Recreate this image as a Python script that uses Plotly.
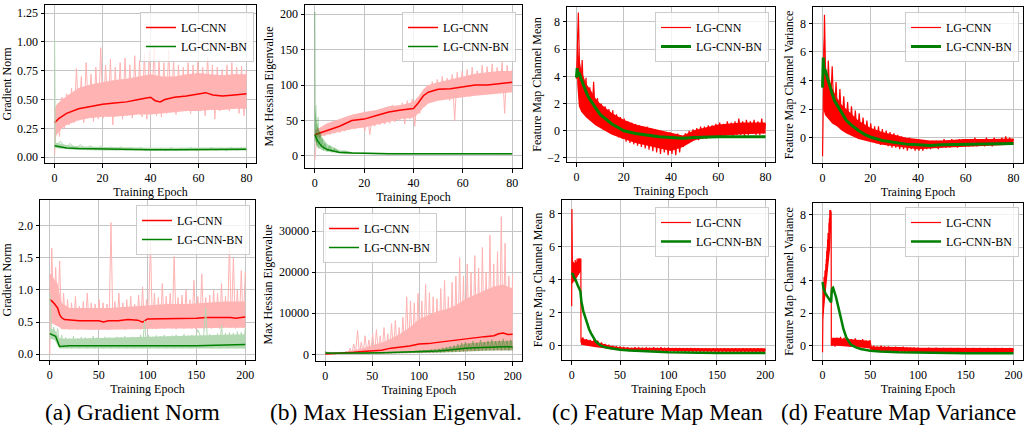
import numpy as np
import plotly.graph_objects as go
from plotly.subplots import make_subplots

# ====================== DATA ======================
A1_CNN_RAW = [0.02, 0.45, 0.18, 0.52, 0.25, 0.55, 0.28, 0.60, 0.30, 0.77,
              0.32, 0.70, 0.30, 0.82, 0.35, 0.72, 0.31, 0.78, 0.33, 0.95,
              0.34, 0.80, 0.35, 0.85, 0.28, 0.78, 0.36, 0.82, 0.33, 0.86,
              0.36, 0.80, 0.34, 0.88, 0.38, 0.84, 0.35, 0.90, 0.33, 0.92,
              0.38, 0.97, 0.36, 0.85, 0.35, 0.82, 0.38, 0.93, 0.40, 0.84,
              0.37, 0.80, 0.42, 0.78, 0.40, 0.82, 0.38, 0.80, 0.42, 0.84,
              0.40, 0.78, 0.36, 0.87, 0.43, 0.80, 0.33, 0.78, 0.40, 0.76,
              0.42, 0.80, 0.40, 0.82, 0.42, 0.78, 0.38, 0.79, 0.36, 0.75]
A1_CNN_BODY_X = [0, 1, 3, 5, 10, 15, 20, 25, 30, 35, 40, 45, 50, 55, 60, 65, 70, 75, 80]
A1_CNN_BODY_LO = [0.15, 0.20, 0.25, 0.28, 0.32, 0.34, 0.35, 0.35, 0.36, 0.37, 0.37, 0.38, 0.39,
                  0.40, 0.40, 0.41, 0.41, 0.42, 0.42]
A1_CNN_BODY_HI = [0.42, 0.46, 0.50, 0.53, 0.60, 0.63, 0.65, 0.67, 0.68, 0.70, 0.72, 0.70, 0.70,
                  0.72, 0.73, 0.72, 0.71, 0.72, 0.72]
A1_CNN_SM_X = [0, 2, 5, 10, 15, 20, 25, 30, 35, 38, 40, 42, 44, 46, 50, 55, 60, 63, 66, 70, 75, 80]
A1_CNN_SM = [0.30, 0.34, 0.38, 0.42, 0.44, 0.46, 0.47, 0.48, 0.50, 0.51, 0.52, 0.49, 0.48, 0.50,
             0.52, 0.53, 0.55, 0.56, 0.54, 0.53, 0.54, 0.55]
A1_BN_RAW = [1.02, 0.09, 0.14, 0.08, 0.12, 0.07, 0.11, 0.07, 0.10, 0.065,
             0.095, 0.065, 0.09, 0.06, 0.09, 0.06, 0.085, 0.06, 0.085, 0.055,
             0.08, 0.06, 0.08, 0.055, 0.085, 0.06, 0.08, 0.06, 0.085, 0.055,
             0.08, 0.06, 0.085, 0.06, 0.08, 0.055, 0.085, 0.06, 0.08, 0.06]
A1_BN_BODY_X = [0, 2, 5, 10, 20, 40, 60, 80]
A1_BN_BODY_LO = [0.08, 0.075, 0.068, 0.063, 0.058, 0.056, 0.057, 0.058]
A1_BN_BODY_HI = [0.13, 0.12, 0.105, 0.095, 0.088, 0.082, 0.085, 0.085]
A1_BN_SM_X = [0, 2, 5, 10, 20, 30, 40, 50, 60, 70, 80]
A1_BN_SM = [0.10, 0.09, 0.08, 0.075, 0.07, 0.068, 0.065, 0.065, 0.067, 0.068, 0.07]

B1_CNN_RAW = [-6, 40, 25, 38, 28, 45, 30, 42, 32, 50,
              33, 48, 35, 55, 37, 52, 38, 58, 40, 56,
              35, 60, 30, 58, 42, 62, 44, 65, 45, 68,
              46, 72, 48, 70, 50, 75, 45, 78, 52, 80,
              42, 82, 60, 90, 70, 100, 75, 105, 78, 108,
              80, 112, 82, 110, 78, 115, 50, 118, 85, 120,
              86, 122, 84, 125, 88, 120, 86, 128, 90, 126,
              88, 130, 92, 125, 90, 132, 60, 128, 95, 122]
B1_CNN_BODY_X = [0, 2, 5, 10, 15, 20, 25, 30, 35, 40, 42, 44, 46, 50, 55, 60, 65, 70, 75, 80]
B1_CNN_BODY_LO = [26, 28, 30, 34, 38, 40, 44, 48, 52, 54, 60, 68, 74, 78, 80, 83, 85, 87, 88, 90]
B1_CNN_BODY_HI = [36, 40, 46, 52, 58, 62, 65, 70, 72, 76, 84, 94, 100, 104, 108, 112, 116, 118,
                  120, 120]
B1_CNN_SM_X = [0, 5, 10, 15, 20, 25, 30, 35, 40, 42, 44, 46, 50, 55, 60, 65, 70, 75, 80]
B1_CNN_SM = [30, 36, 42, 50, 52, 57, 62, 65, 67, 75, 85, 90, 94, 95, 98, 100, 100, 102, 104]
B1_BN_RAW_X = [0, 0.2, 0.4, 0.6, 0.8, 1.0, 1.3, 1.6, 2.0, 2.5, 3, 3.5, 4, 5, 6, 7, 8, 10, 12, 15,
               20, 30, 40, 50, 60, 70, 80]
B1_BN_RAW = [203, 20, 72, 15, 45, 12, 55, 10, 35, 12, 25, 8, 18, 7, 14, 6, 10, 5, 7, 4,
             3.5, 3, 3, 3, 3, 3, 3]
B1_BN_BODY_X = [0, 0.5, 1, 2, 3, 5, 8, 10, 15, 20, 40, 80]
B1_BN_BODY_LO = [25, 18, 14, 10, 8, 6, 4.5, 4, 3, 2.5, 2.5, 2.5]
B1_BN_BODY_HI = [70, 50, 42, 34, 26, 17, 11, 8, 5.5, 4.5, 4, 4]
B1_BN_SM_X = [0, 1, 2, 3, 5, 7, 10, 15, 20, 30, 40, 60, 80]
B1_BN_SM = [30, 22, 17, 13, 9, 7, 5, 4, 3.5, 3, 3, 3, 3]

C1_CNN_RAW = [3.8, 8.7, 2.2, 5.2, 1.3, 3.9, 1.0, 3.2, 0.8, 3.6,
              0.5, 2.4, 0.3, 2.0, 0.1, 1.8, 0.0, 1.6, -0.2, 1.5,
              -0.3, 1.2, -0.5, 1.0, -0.6, 0.9, -0.8, 0.7, -0.9, 0.6,
              -1.0, 0.5, -1.1, 0.4, -1.2, 0.3, -1.3, 0.3, -1.4, 0.2,
              -1.5, 0.1, -1.6, 0.0, -1.7, -0.1, -1.6, -0.2, -1.8, -0.1,
              -1.7, -0.3, -1.8, -0.2, -1.6, -0.5, -1.2, -0.2, -0.9, 0.0,
              -0.8, 0.1, -0.7, 0.2, -0.7, 0.3, -0.6, 0.3, -0.6, 0.4,
              -0.5, 0.4, -0.5, 0.5, -0.4, 0.6, -0.4, 0.5, -0.4, 0.7,
              -0.3, 0.6, -0.4, 0.7, -0.3, 0.9, -0.3, 0.7, -0.4, 0.8,
              -0.3, 0.7, -0.2, 0.8, -0.3, 0.7, -0.3, 0.9, -0.2, 0.5]
C1_CNN_BODY_X = [0.3, 1, 2, 4, 6, 8, 10, 15, 20, 25, 30, 35, 40, 45, 50, 55, 60, 70, 80]
C1_CNN_BODY_LO = [3.5, 1.8, 1.4, 1.0, 0.7, 0.4, 0.2, -0.3, -0.6, -0.9, -1.1, -1.3, -1.5, -1.2,
                  -0.7, -0.5, -0.4, -0.25, -0.2]
C1_CNN_BODY_HI = [7.5, 5.5, 4.5, 3.5, 3.0, 2.4, 2.0, 1.3, 0.8, 0.45, 0.25, 0.05, -0.15, -0.35,
                  0.05, 0.25, 0.45, 0.6, 0.6]
C1_BN_X = [0, 0.3, 0.6, 1, 2, 3, 4, 5, 6, 8, 10, 12, 15, 18, 20, 25, 30, 35, 40, 45, 50, 55, 60, 70, 80]
C1_BN = [3.9, 4.6, 4.0, 4.3, 3.8, 3.3, 2.9, 2.5, 2.2, 1.7, 1.2, 0.9, 0.5, 0.2, 0.0, -0.2, -0.35,
         -0.45, -0.5, -0.55, -0.5, -0.45, -0.45, -0.45, -0.45]

D1_CNN_RAW = [-1.3, 8.6, 1.5, 5.4, 1.8, 5.0, 1.2, 3.9, 0.9, 3.4,
              0.7, 2.9, 0.5, 2.5, 0.4, 2.2, 0.2, 1.9, 0.1, 1.7,
              0.0, 1.4, -0.1, 1.2, -0.2, 1.0, -0.3, 0.8, -0.4, 0.8,
              -0.5, 0.6, -0.5, 0.5, -0.6, 0.4, -0.7, 0.3, -0.7, 0.2,
              -0.8, 0.1, -0.8, 0.0, -0.9, 0.0, -0.8, -0.1, -0.9, -0.1,
              -0.9, -0.2, -0.9, -0.2, -0.8, -0.3, -0.8, -0.2, -0.7, -0.2,
              -0.8, -0.2, -0.7, -0.1, -0.7, -0.2, -0.7, -0.1, -0.6, -0.2,
              -0.7, -0.1, -0.6, -0.1, -0.6, -0.1, -0.6, -0.2, -0.6, 0.0,
              -0.6, -0.1, -0.5, -0.1, -0.6, 0.0, -0.5, -0.1, -0.6, 0.0,
              -0.5, -0.1, -0.5, 0.0, -0.5, 0.1, -0.5, 0.0, -0.5, -0.1]
D1_CNN_BODY_X = [0.3, 1, 2, 4, 6, 8, 10, 15, 20, 25, 30, 35, 40, 45, 50, 60, 70, 80]
D1_CNN_BODY_LO = [2.0, 1.6, 1.4, 1.0, 0.8, 0.5, 0.3, -0.1, -0.3, -0.5, -0.6, -0.7, -0.8, -0.75,
                  -0.7, -0.6, -0.55, -0.5]
D1_CNN_BODY_HI = [7.0, 5.0, 4.5, 3.5, 2.8, 2.3, 2.0, 1.2, 0.7, 0.4, 0.2, 0.0, -0.1, -0.2, -0.2,
                  -0.1, -0.1, -0.05]
D1_BN_X = [0, 0.3, 0.6, 1, 2, 3, 4, 5, 6, 8, 10, 12, 15, 18, 20, 25, 30, 35, 40, 45, 50, 60, 70, 80]
D1_BN = [3.5, 5.6, 4.5, 4.8, 4.2, 3.6, 3.1, 2.6, 2.3, 1.7, 1.2, 0.9, 0.5, 0.2, 0.05, -0.2, -0.35,
         -0.45, -0.5, -0.55, -0.5, -0.45, -0.4, -0.4]

A2_CNN_RAW = [0.0, 1.65, 0.55, 1.35, 0.50, 1.45, 0.42, 0.95, 0.40, 0.85,
              0.38, 0.80, 0.40, 0.90, 0.38, 0.75, 0.40, 0.82, 0.39, 0.95,
              0.40, 0.80, 0.38, 0.78, 0.41, 0.85, 0.39, 0.80, 0.40, 0.78,
              0.38, 2.05, 0.40, 0.82, 0.39, 0.95, 0.40, 0.80, 0.38, 0.85,
              0.40, 0.90, 0.39, 0.78, 0.41, 0.92, 0.38, 1.05, 0.40, 0.85,
              0.55, 1.75, 0.40, 0.95, 0.39, 0.88, 0.41, 1.10, 0.40, 0.90,
              0.41, 0.95, 0.40, 1.52, 0.39, 0.88, 0.41, 0.92, 0.40, 1.00,
              0.41, 0.85, 0.40, 1.15, 0.39, 0.90, 0.42, 1.25, 0.40, 0.88,
              0.41, 0.92, 0.40, 1.00, 0.42, 0.95, 0.40, 1.10, 0.41, 0.90,
              0.42, 1.72, 0.41, 1.50, 0.40, 1.00, 0.43, 1.30, 0.41, 1.28]
A2_CNN_BODY_X = [0, 2, 5, 8, 10, 12, 20, 40, 60, 80, 100, 120, 140, 160, 180, 200]
A2_CNN_BODY_LO = [0.45, 0.48, 0.46, 0.44, 0.42, 0.39, 0.38, 0.38, 0.38, 0.39, 0.39, 0.40, 0.40,
                  0.40, 0.41, 0.41]
A2_CNN_BODY_HI = [1.25, 1.25, 1.15, 1.10, 0.95, 0.80, 0.72, 0.72, 0.72, 0.74, 0.76, 0.78, 0.78,
                  0.80, 0.82, 0.82]
A2_CNN_SM_X = [0, 2, 5, 8, 10, 12, 15, 20, 30, 40, 50, 55, 60, 70, 80, 90, 95, 100, 110, 120,
               125, 130, 140, 150, 160, 170, 180, 185, 190, 200]
A2_CNN_SM = [0.85, 0.83, 0.78, 0.72, 0.62, 0.57, 0.54, 0.53, 0.52, 0.52, 0.52, 0.50, 0.52, 0.52,
             0.54, 0.53, 0.50, 0.55, 0.55, 0.55, 0.56, 0.55, 0.55, 0.56, 0.57, 0.57, 0.58, 0.57,
             0.56, 0.58]
A2_BN_RAW = [0.95, 0.25, 0.42, 0.24, 0.40, 0.10, 0.30, 0.09, 0.26, 0.09,
             0.25, 0.09, 0.28, 0.10, 0.25, 0.09, 0.27, 0.10, 0.26, 0.09,
             0.25, 0.10, 0.28, 0.09, 0.26, 0.10, 0.25, 0.09, 0.27, 0.10,
             0.26, 0.09, 0.25, 0.10, 0.27, 0.09, 0.26, 0.10, 0.28, 0.09,
             0.25, 0.10, 0.27, 0.09, 0.26, 0.10, 0.30, 0.09, 0.52, 0.10,
             0.30, 0.09, 0.27, 0.10, 0.29, 0.09, 0.28, 0.10, 0.30, 0.09,
             0.28, 0.10, 0.29, 0.09, 0.30, 0.10, 0.28, 0.09, 0.31, 0.10,
             0.29, 0.09, 0.30, 0.10, 0.28, 0.38, 0.31, 0.10, 0.32, 0.72,
             0.10, 0.31, 0.09, 0.30, 0.10, 0.32, 0.09, 0.45, 0.10, 0.33,
             0.09, 0.34, 0.10, 0.33, 0.09, 0.35, 0.10, 0.34, 0.09, 0.40]
A2_BN_BODY_X = [0, 5, 8, 10, 20, 50, 100, 150, 200]
A2_BN_BODY_LO = [0.24, 0.22, 0.14, 0.09, 0.09, 0.09, 0.09, 0.09, 0.09]
A2_BN_BODY_HI = [0.40, 0.38, 0.30, 0.25, 0.24, 0.25, 0.27, 0.29, 0.31]
A2_BN_SM_X = [0, 3, 6, 8, 10, 20, 50, 80, 100, 120, 150, 170, 200]
A2_BN_SM = [0.32, 0.30, 0.28, 0.20, 0.12, 0.13, 0.13, 0.13, 0.12, 0.12, 0.13, 0.14, 0.15]

B2_CNN_RAW = [100, 600, 50, 400, 100, 500, 80, 450, 120, 600,
              100, 800, 150, 1500, 200, 2500, 300, 5800, 200, 3000,
              300, 4500, 200, 3500, 400, 5000, 300, 6000, 500, 4500,
              400, 6500, 600, 5000, 300, 7500, 500, 8200, 600, 6500,
              700, 9000, 500, 14000, 800, 13000, 600, 12500, 900, 14800,
              700, 13000, 1000, 17000, 800, 15000, 900, 14000, 1200, 13500,
              1000, 16000, 800, 18000, 1200, 14000, 1000, 17500, 900, 19000,
              1100, 23500, 1300, 19000, 1000, 22000, 1400, 20000, 1200, 24000,
              1500, 21000, 1200, 26000, 1400, 20000, 1300, 29000, 1600, 22000,
              1400, 25000, 1200, 33500, 1500, 27000, 1300, 19000, 1500, 19500]
B2_CNN_BODY_X = [0, 20, 30, 40, 50, 60, 70, 80, 90, 100, 110, 120, 130, 140, 150, 160, 170, 180,
                 190, 200]
B2_CNN_BODY_LO = [0, 0, 50, 100, 100, 150, 200, 250, 300, 400, 400, 500, 500, 600, 700, 800, 900,
                  1000, 1000, 1000]
B2_CNN_BODY_HI = [300, 500, 1000, 1500, 2200, 2800, 3800, 5000, 6500, 8500, 9500, 10500, 11000,
                  12000, 13500, 14500, 15500, 16500, 17000, 16000]
B2_CNN_SM_X = [0, 10, 20, 30, 40, 50, 60, 70, 80, 90, 100, 110, 120, 130, 140, 150, 160, 170,
               180, 185, 190, 195, 200]
B2_CNN_SM = [100, 200, 300, 500, 700, 800, 1000, 1500, 1800, 2000, 2500, 2600, 2900, 3200, 3500,
             3800, 4000, 4300, 4500, 5000, 5200, 4800, 4900]
B2_BN_RAW = [800, 100, 600, 50, 300, 80, 200, 100, 250, 100,
             250, 120, 300, 150, 280, 130, 300, 150, 320, 140,
             330, 160, 350, 180, 380, 170, 400, 200, 420, 190,
             450, 200, 480, 220, 500, 210, 550, 230, 600, 250,
             650, 250, 700, 280, 750, 300, 800, 300, 900, 320,
             1000, 300, 1100, 350, 1000, 320, 1200, 350, 1300, 400,
             1400, 400, 1600, 450, 1800, 500, 2000, 500, 2200, 550,
             2500, 600, 2800, 700, 3000, 800, 2600, 900, 3200, 800,
             2800, 900, 3500, 1000, 3000, 900, 3300, 1000, 3600, 900,
             3200, 1000, 3400, 900, 3800, 1000, 3300, 900, 3500, 1000]
B2_BN_BODY_X = [0, 5, 20, 50, 80, 100, 120, 140, 150, 160, 180, 200]
B2_BN_BODY_LO = [50, 80, 120, 180, 250, 300, 350, 450, 600, 700, 900, 900]
B2_BN_BODY_HI = [700, 300, 300, 400, 600, 900, 1200, 2000, 2600, 2800, 3200, 3300]
B2_BN_SM_X = [0, 20, 40, 60, 80, 100, 110, 120, 130, 140, 150, 160, 170, 180, 190, 200]
B2_BN_SM = [300, 250, 300, 400, 500, 600, 700, 800, 1000, 1300, 1500, 1600, 1700, 1800, 1850, 1800]

C2_CNN_EARLY = [2.4, 8.3, 4.0, 5.0, 3.8, 4.8, 4.0, 5.1, 3.9, 4.6,
                4.1, 5.0, 3.9, 4.7, 4.2, 5.2, 4.0, 4.8, 4.3, 5.1,
                4.1, 4.9, 4.4, 5.3, 4.2, 5.0, 4.5, 5.2, 4.3, 5.3,
                4.6, 5.1, 4.4, 5.3, 4.7, 5.2, 4.5, 5.3, 4.8, 5.3]
C2_CNN_LATE = [0.2, 0.5, 0.1, 0.4, 0.1, 0.35, 0.05, 0.35, 0.0, 0.3,
               -0.05, 0.2, -0.1, 0.1, -0.15, 0.05, -0.2, 0.0, -0.2, -0.05,
               -0.25, -0.05, -0.25, -0.1, -0.3, -0.1, -0.3, -0.15, -0.3, -0.1,
               -0.3, -0.12, -0.32, -0.15, -0.3, -0.12, -0.33, -0.15, -0.32, -0.1,
               -0.35, -0.15, -0.32, -0.1, -0.35, -0.15, -0.33, -0.12, -0.35, -0.15,
               -0.35, -0.17, -0.36, -0.15, -0.35, -0.18, -0.37, -0.15, -0.36, -0.17,
               -0.37, -0.18, -0.36, -0.15, -0.38, -0.17, -0.37, -0.16, -0.38, -0.18,
               -0.38, -0.16, -0.37, -0.18, -0.39, -0.17, -0.38, -0.16, -0.39, -0.18,
               -0.38, -0.17, -0.39, -0.16, -0.38, -0.18, -0.39, -0.15, -0.38, -0.17,
               -0.39, -0.16, -0.38, -0.17, -0.39, -0.15, -0.38, -0.17, -0.39, -0.2]
C2_CNN_BODY_X = [0.3, 3, 6, 9.4, 9.6, 15, 20, 25, 30, 40, 50, 60, 100, 150, 200]
C2_CNN_BODY_LO = [3.9, 4.0, 4.2, 4.5, 0.05, 0.0, -0.05, -0.1, -0.15, -0.2, -0.28, -0.3, -0.34,
                  -0.36, -0.37]
C2_CNN_BODY_HI = [5.0, 5.0, 5.1, 5.3, 0.45, 0.35, 0.3, 0.25, 0.15, 0.0, -0.1, -0.12, -0.15,
                  -0.16, -0.16]
C2_BN_X = [0, 1, 2, 4, 6, 8, 9, 9.5, 10, 12, 15, 18, 20, 25, 30, 35, 40, 50, 60, 80, 100, 150, 200]
C2_BN = [4.3, 4.4, 4.2, 4.0, 3.7, 3.4, 3.3, 3.0, 2.7, 2.1, 1.5, 1.0, 0.75, 0.25, 0.0, -0.1, -0.15,
         -0.25, -0.3, -0.35, -0.4, -0.45, -0.45]

D2_CNN_EARLY = [-0.4, 2.5, 1.5, 3.8, 2.0, 3.5, 2.8, 4.2, 3.0, 3.8,
                3.5, 4.6, 3.8, 4.4, 4.0, 5.0, 4.5, 5.3, 4.8, 5.8,
                5.0, 6.0, 5.5, 6.5, 5.8, 6.9, 6.0, 6.7, 6.3, 7.5,
                6.5, 7.8, 7.0, 8.3, 7.2, 8.0, 7.5, 8.3, 7.8, 8.2]
D2_CNN_LATE = [0.0, 0.5, -0.05, 0.45, 0.05, 0.55, 0.0, 0.5, 0.05, 0.45,
               -0.05, 0.4, 0.0, 0.45, -0.1, 0.35, -0.05, 0.4, -0.1, 0.3,
               -0.15, 0.35, -0.3, 0.0, -0.3, -0.05, -0.35, 0.0, -0.3, -0.05,
               -0.35, -0.05, -0.3, -0.1, -0.35, -0.05, -0.38, -0.1, -0.35, -0.05,
               -0.38, -0.1, -0.35, -0.12, -0.4, -0.1, -0.38, -0.12, -0.4, -0.15,
               -0.4, -0.15, -0.38, -0.12, -0.4, -0.15, -0.42, -0.12, -0.4, -0.15,
               -0.42, -0.14, -0.4, -0.15, -0.42, -0.13, -0.4, -0.15, -0.42, -0.14,
               -0.4, -0.15, -0.42, -0.13, -0.41, -0.15, -0.42, -0.14, -0.4, -0.15,
               -0.42, -0.14, -0.41, -0.15, -0.42, -0.13, -0.4, -0.15, -0.42, -0.14,
               -0.41, -0.15, -0.42, -0.13, -0.4, -0.15, -0.42, -0.14, -0.41, -0.2]
D2_CNN_BODY_X = [0.3, 2, 4, 6, 8, 8.9, 9.2, 15, 20, 30, 40, 49, 51, 60, 80, 100, 150, 200]
D2_CNN_BODY_LO = [1.5, 2.5, 3.5, 4.8, 6.0, 7.2, 0.0, 0.0, 0.0, -0.05, -0.1, -0.15, -0.3, -0.32,
                  -0.35, -0.38, -0.4, -0.4]
D2_CNN_BODY_HI = [3.5, 4.2, 5.0, 6.2, 7.5, 8.2, 0.45, 0.5, 0.45, 0.4, 0.35, 0.3, -0.05, -0.05,
                  -0.08, -0.12, -0.14, -0.14]
D2_BN_X = [0, 1, 3, 5, 7, 8, 9, 9.5, 10, 11, 12, 14, 16, 18, 20, 22, 25, 28, 30, 35, 40, 50, 60,
           80, 100, 110, 150, 200]
D2_BN = [3.9, 3.5, 3.2, 3.0, 2.8, 2.7, 2.65, 3.2, 3.5, 3.55, 3.4, 3.0, 2.5, 2.0, 1.5, 1.0, 0.5,
         0.2, 0.05, -0.1, -0.2, -0.3, -0.35, -0.4, -0.42, -0.45, -0.45, -0.45]

SERIES = ["LG-CNN", "LG-CNN-BN"]
X_TITLE = "Training Epoch"
Y_TITLES = ["Gradient Norm", "Max Hessian Eigenvalue", "Feature Map Channel Mean",
            "Feature Map Channel Variance"] * 2
CAPTIONS = ["(a) Gradient Norm", "(b) Max Hessian Eigenval.", "(c) Feature Map Mean",
            "(d) Feature Map Variance"]
X_TICKS_TOP = [0, 20, 40, 60, 80]
X_TICKS_BOT = [0, 50, 100, 150, 200]
Y_TICKS = [
    ([0, 0.25, 0.5, 0.75, 1.0, 1.25], ["0.00", "0.25", "0.50", "0.75", "1.00", "1.25"]),
    ([0, 50, 100, 150, 200], ["0", "50", "100", "150", "200"]),
    ([-2, 0, 2, 4, 6, 8], ["\u22122", "0", "2", "4", "6", "8"]),
    ([0, 2, 4, 6, 8], ["0", "2", "4", "6", "8"]),
    ([0, 0.5, 1.0, 1.5, 2.0], ["0.0", "0.5", "1.0", "1.5", "2.0"]),
    ([0, 10000, 20000, 30000], ["0", "10000", "20000", "30000"]),
    ([0, 2, 4, 6, 8], ["0", "2", "4", "6", "8"]),
    ([0, 2, 4, 6, 8], ["0", "2", "4", "6", "8"]),
]

# ====================== STYLE / LAYOUT ======================
W, H = 1024, 431
FONT = "Liberation Serif"
RED, GREEN = "#ff0000", "#008000"
RED_LIGHT = "#ffb3b3"
GREEN_LIGHT_A = "#b3d9b3"
GREEN_LIGHT_B = "rgba(0,128,0,0.3)"

BOXES = [(45, 256, 5, 163), (305, 522, 5, 168), (567, 775, 7, 162), (813, 1023, 7, 163),
         (40, 255, 200, 360), (316, 522, 208, 361), (562, 775, 200, 360), (813, 1023, 203, 360)]
X_RANGES = [[-4, 84]] * 4 + [[-10, 210]] * 4
Y_RANGES = [[-0.05, 1.32], [-17, 213], [-2.3, 9.1], [-1.77, 9.14],
            [-0.09, 2.40], [-1630, 35600], [-0.87, 8.85], [-0.87, 8.73]]
LEGENDS = [(254, 12, "right"), (516, 12, "right"), (769, 12, "right"), (1019, 12, "right"),
           (250, 205, "right"), (323, 213, "left"), (769, 207, "right"), (1019, 207, "right")]
CAPTION_X = [43, 268, 550, 779]
CAPTION_Y = 412

fig = make_subplots(rows=2, cols=4)


def leg(i):
    return "legend" if i == 1 else f"legend{i}"


def rc(i):
    return (1 if i <= 4 else 2), (i - 1) % 4 + 1


def add(i, x, y, color, width, name=None, show=False):
    r, c = rc(i)
    fig.add_trace(go.Scatter(x=list(x), y=list(y), mode="lines",
                             line=dict(color=color, width=width),
                             name=name, showlegend=show, legend=leg(i),
                             hoverinfo="skip"), row=r, col=c)


def band(i, x, lo, hi, color):
    r, c = rc(i)
    xs = list(x) + list(x)[::-1]
    ys = list(hi) + list(lo)[::-1]
    fig.add_trace(go.Scatter(x=xs, y=ys, mode="lines", fill="toself", fillcolor=color,
                             line=dict(width=0, color=color), showlegend=False,
                             legend=leg(i), hoverinfo="skip"), row=r, col=c)


def ep(lo, hi, vals):
    return np.linspace(lo, hi, len(vals))


band(1, A1_CNN_BODY_X, A1_CNN_BODY_LO, A1_CNN_BODY_HI, RED_LIGHT)
add(1, ep(0, 80, A1_CNN_RAW), A1_CNN_RAW, RED_LIGHT, 1)
add(1, A1_CNN_SM_X, A1_CNN_SM, RED, 1.5, SERIES[0], True)
band(1, A1_BN_BODY_X, A1_BN_BODY_LO, A1_BN_BODY_HI, GREEN_LIGHT_A)
add(1, np.r_[0, np.linspace(0.3, 80, len(A1_BN_RAW) - 1)], A1_BN_RAW, GREEN_LIGHT_A, 1)
add(1, A1_BN_SM_X, A1_BN_SM, GREEN, 1.5, SERIES[1], True)
band(2, B1_CNN_BODY_X, B1_CNN_BODY_LO, B1_CNN_BODY_HI, RED_LIGHT)
add(2, ep(0, 80, B1_CNN_RAW), B1_CNN_RAW, RED_LIGHT, 1)
add(2, B1_CNN_SM_X, B1_CNN_SM, RED, 1.5, SERIES[0], True)
band(2, B1_BN_BODY_X, B1_BN_BODY_LO, B1_BN_BODY_HI, GREEN_LIGHT_B)
add(2, B1_BN_RAW_X, B1_BN_RAW, GREEN_LIGHT_B, 1.2)
add(2, B1_BN_SM_X, B1_BN_SM, GREEN, 1.5, SERIES[1], True)
band(3, C1_CNN_BODY_X, C1_CNN_BODY_LO, C1_CNN_BODY_HI, RED)
add(3, ep(0, 80, C1_CNN_RAW), C1_CNN_RAW, RED, 1.2, SERIES[0], True)
add(3, C1_BN_X, C1_BN, GREEN, 3, SERIES[1], True)
band(4, D1_CNN_BODY_X, D1_CNN_BODY_LO, D1_CNN_BODY_HI, RED)
add(4, ep(0, 80, D1_CNN_RAW), D1_CNN_RAW, RED, 1.2, SERIES[0], True)
add(4, D1_BN_X, D1_BN, GREEN, 3, SERIES[1], True)
band(5, A2_CNN_BODY_X, A2_CNN_BODY_LO, A2_CNN_BODY_HI, RED_LIGHT)
add(5, ep(0, 200, A2_CNN_RAW), A2_CNN_RAW, RED_LIGHT, 1)
add(5, A2_CNN_SM_X, A2_CNN_SM, RED, 1.5, SERIES[0], True)
band(5, A2_BN_BODY_X, A2_BN_BODY_LO, A2_BN_BODY_HI, GREEN_LIGHT_A)
add(5, ep(0, 200, A2_BN_RAW), A2_BN_RAW, GREEN_LIGHT_A, 1)
add(5, A2_BN_SM_X, A2_BN_SM, GREEN, 1.5, SERIES[1], True)
band(6, B2_CNN_BODY_X, B2_CNN_BODY_LO, B2_CNN_BODY_HI, RED_LIGHT)
add(6, ep(0, 200, B2_CNN_RAW), B2_CNN_RAW, RED_LIGHT, 1)
add(6, B2_CNN_SM_X, B2_CNN_SM, RED, 1.5, SERIES[0], True)
band(6, B2_BN_BODY_X, B2_BN_BODY_LO, B2_BN_BODY_HI, GREEN_LIGHT_B)
add(6, ep(0, 200, B2_BN_RAW), B2_BN_RAW, GREEN_LIGHT_B, 1)
add(6, B2_BN_SM_X, B2_BN_SM, GREEN, 1.5, SERIES[1], True)
band(7, C2_CNN_BODY_X, C2_CNN_BODY_LO, C2_CNN_BODY_HI, RED)
c2x = np.r_[np.linspace(0, 9.5, len(C2_CNN_EARLY)), np.linspace(9.6, 200, len(C2_CNN_LATE))]
add(7, c2x, C2_CNN_EARLY + C2_CNN_LATE, RED, 1.2, SERIES[0], True)
add(7, C2_BN_X, C2_BN, GREEN, 2.5, SERIES[1], True)
band(8, D2_CNN_BODY_X, D2_CNN_BODY_LO, D2_CNN_BODY_HI, RED)
d2x = np.r_[np.linspace(0, 9.0, len(D2_CNN_EARLY)), np.linspace(9.2, 200, len(D2_CNN_LATE))]
add(8, d2x, D2_CNN_EARLY + D2_CNN_LATE, RED, 1.2, SERIES[0], True)
add(8, D2_BN_X, D2_BN, GREEN, 2.5, SERIES[1], True)

tickfont = dict(family=FONT, size=12, color="black")
axis_common = dict(showline=True, linecolor="black", linewidth=1, mirror=True,
                   ticks="outside", ticklen=3.5, tickwidth=0.8, tickcolor="black",
                   showgrid=True, gridcolor="#c4c4c4", gridwidth=1, zeroline=False,
                   tickfont=tickfont, layer="below traces")

layout_updates = {}
for i in range(1, 9):
    l, r, t, b = BOXES[i - 1]
    xs = "xaxis" if i == 1 else f"xaxis{i}"
    ys = "yaxis" if i == 1 else f"yaxis{i}"
    xt = X_TICKS_TOP if i <= 4 else X_TICKS_BOT
    layout_updates[xs] = dict(axis_common, domain=[l / W, r / W], range=X_RANGES[i - 1],
                              tickvals=xt, ticktext=[str(v) for v in xt],
                              title=dict(text=X_TITLE, font=tickfont, standoff=0))
    tv, tt = Y_TICKS[i - 1]
    layout_updates[ys] = dict(axis_common, domain=[1 - b / H, 1 - t / H], range=Y_RANGES[i - 1],
                              tickvals=tv, ticktext=tt,
                              title=dict(text=Y_TITLES[i - 1], font=tickfont, standoff=3))
    lx, ly, xa = LEGENDS[i - 1]
    layout_updates[leg(i)] = dict(x=lx / W, y=1 - ly / H, xanchor=xa, yanchor="top",
                                  xref="paper", yref="paper",
                                  bgcolor="rgba(255,255,255,0.8)", bordercolor="#cccccc",
                                  borderwidth=1, font=dict(family=FONT, size=12, color="black"),
                                  tracegroupgap=0, itemwidth=30)
fig.update_layout(**layout_updates)

for k, cap in enumerate(CAPTIONS):
    fig.add_annotation(text=cap, x=CAPTION_X[k] / W, y=1 - CAPTION_Y / H, xref="paper", yref="paper",
                       xanchor="left", yanchor="middle", showarrow=False,
                       font=dict(family=FONT, size=23.5 if k < 3 else 23, color="black"))

fig.update_layout(width=W, height=H, margin=dict(l=0, r=0, t=0, b=0, autoexpand=False),
                  paper_bgcolor="white", plot_bgcolor="white",
                  font=dict(family=FONT, color="black"), hovermode=False)

fig.write_html("out.html", config={"displayModeBar": False},
               post_script="document.body.style.margin='0';document.body.style.overflow='hidden';")
